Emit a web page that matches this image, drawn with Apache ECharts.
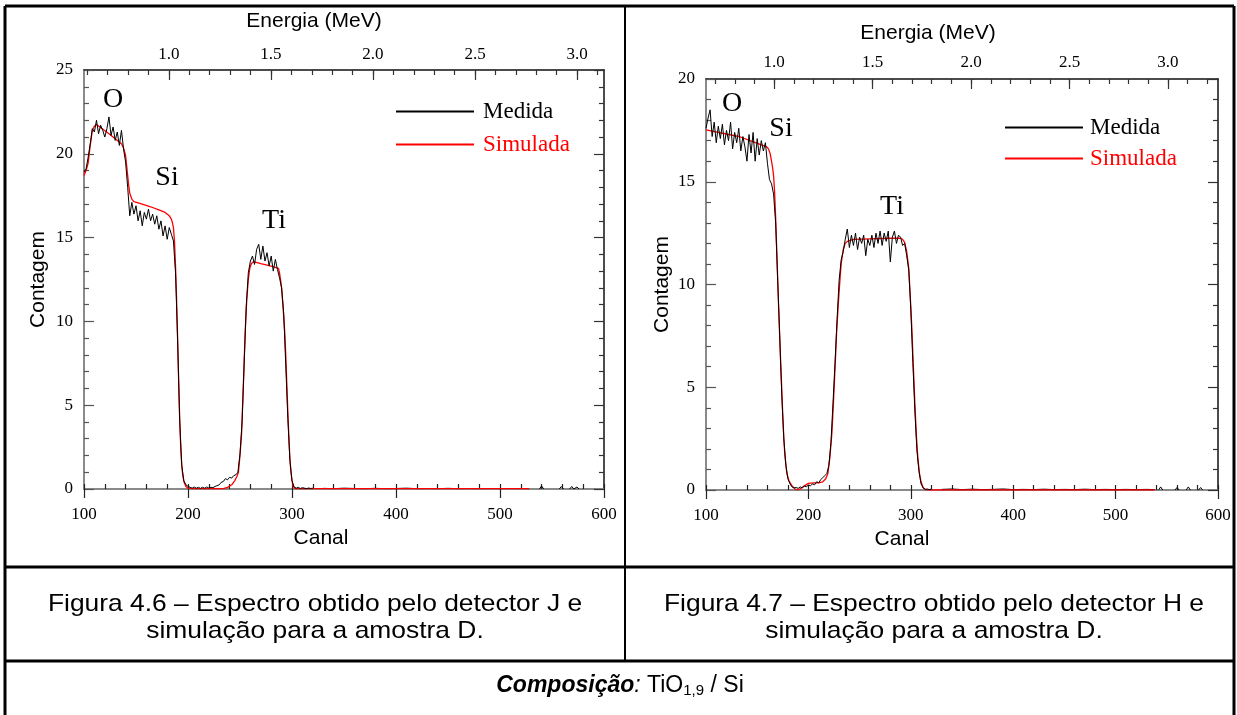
<!DOCTYPE html>
<html><head><meta charset="utf-8">
<script src="https://cdn.jsdelivr.net/npm/echarts@6/dist/echarts.min.js"></script>
<style>html,body{margin:0;padding:0;background:#fff}#c{width:1237px;height:715px}</style>
</head><body><div id="c"></div>
<script>
// ---------- DATA ----------
// Channel tick labels (bottom axes)
const channelMin = 100, channelMax = 600, channelStep = 100;
// Energy tick labels (top axes)
const energyMajor = [1.0, 1.5, 2.0, 2.5, 3.0];
const energyMinorJ = [0.6,0.7,0.8,0.9,1.0,1.1,1.2,1.3,1.4,1.5,1.6,1.7,1.8,1.9,2.0,2.1,2.2,2.3,2.4,2.5,2.6,2.7,2.8,2.9,3.0,3.1];
const energyMinorH = [0.7,0.8,0.9,1.0,1.1,1.2,1.3,1.4,1.5,1.6,1.7,1.8,1.9,2.0,2.1,2.2,2.3,2.4,2.5,2.6,2.7,2.8,2.9,3.0,3.1,3.2];
const energyRangeJ = [0.584, 3.132];
const energyRangeH = [0.654, 3.254];

// Measured spectrum, detector J (Figura 4.6): counts every 2 channels from 100 to 320
const medidaJ_start = 100, medidaJ_step = 2;
const medidaJ = [
 18.9,19.1,19.8,20.6,21.5,21.3,22.0,21.2,21.7,21.4,
 21.0,21.5,22.2,21.1,21.6,20.8,21.3,20.5,21.4,20.3,
 19.5,18.0,16.3,17.1,16.4,16.9,16.0,16.6,15.7,16.5,
 16.1,16.7,16.0,16.4,15.8,16.3,15.5,16.0,15.1,15.7,
 14.9,15.6,15.2,14.8,12.9,8.9,4.1,1.4,0.5,0.25,
 0.15,0.1,0.05,0.12,0.05,0.1,0.04,0.1,0.05,0.12,
 0.06,0.1,0.08,0.15,0.2,0.25,0.4,0.45,0.62,0.55,
 0.7,0.65,0.8,0.85,1.0,2.1,4.0,7.5,10.9,12.9,
 13.6,13.9,13.4,14.3,14.6,13.7,14.5,13.6,14.1,13.3,
 13.9,13.0,13.7,13.1,12.6,12.0,10.5,7.4,4.2,1.7,
 0.5,0.12,0.05,0.1,0.03,0.08,0.05,0.02,0.06,0.03,0.05
];
// Measured tail J (null = gap)
const medidaJ_tailCh  = [330,340,350,360,370,380,390,400,410,420,430,440,450,460,470,480,490,500,510,520,528,530,538,540,542,544,557,559,561,563,567,569,571,572,574,576];
const medidaJ_tailVal = [0.04,0.02,0.05,0.03,0.02,0.04,0.02,0.03,0.05,0.02,0.03,0.02,0.04,0.02,0.03,0.02,0.03,0.02,0.03,0.02,0.02,null,0,0.18,0,null,0,0.15,0,null,0,0.15,0,0,0.12,0];

// Simulated spectrum, detector J
const simJ_ch  = [100,102,104,106,108,110,112,124,136,138,140,141,142,143,144,146,148,156,164,172,178,182,184,185,186,187,188,189,190,191,192,193,194,195,196,198,200,205,234,238,242,245,247,248.5,250,251.5,253,254,255,256.5,258,259.5,261,263,270,280,287,288,289,290,291,292,293,294,295,296,297,298,299,300,301,302,304,528];
const simJ_val = [18.7,19.0,19.45,20.5,21.4,21.65,21.75,21.2,20.6,20.35,19.9,19.3,18.7,18.1,17.65,17.3,17.15,17.0,16.84,16.65,16.5,16.3,16.1,15.9,15.6,14.8,13.3,11.4,9.0,6.5,4.2,2.5,1.4,0.8,0.45,0.15,0.05,0.02,0.02,0.1,0.25,0.5,0.75,1.0,2.0,3.3,5.8,7.6,9.4,11.3,12.5,13.2,13.45,13.56,13.45,13.3,13.17,12.9,12.5,12.0,11.2,10.3,9.4,8.0,6.3,4.6,3.1,1.8,1.0,0.5,0.2,0.07,0.02,0.02];

// Measured spectrum, detector H (Figura 4.7): counts every 2 channels from 100 to 320
const medidaH_start = 100, medidaH_step = 2;
const medidaH = [
 17.6,18.1,18.5,17.2,17.9,16.9,17.7,17.1,17.8,16.8,
 17.5,17.0,17.9,16.6,17.4,16.9,17.6,16.5,17.2,16.7,
 16.0,17.3,16.4,17.4,16.0,17.1,16.3,17.0,16.5,16.9,
 15.9,15.1,14.9,14.4,13.0,10.2,7.5,4.6,2.5,1.2,
 0.55,0.3,0.15,0.1,0.12,0.08,0.15,0.1,0.2,0.15,
 0.25,0.2,0.3,0.25,0.4,0.35,0.5,0.6,0.7,0.8,
 1.2,2.3,4.2,6.2,8.3,10.2,11.2,11.6,12.2,12.7,
 11.8,12.4,11.9,12.5,11.7,12.3,12.0,12.4,11.4,12.2,
 11.9,12.4,11.8,12.5,12.0,12.6,11.9,12.5,12.1,12.6,
 11.1,12.3,12.6,12.0,12.4,12.3,11.9,12.0,11.4,10.7,
 8.8,6.2,3.8,1.9,0.9,0.3,0.1,0.03,0.05,0.02,0.04
];
const medidaH_tailCh  = [330,340,350,360,370,380,390,400,410,420,430,440,450,460,470,480,490,500,510,520,530,538,540,542,544,546,548,558,560,562,564,569,571,573,575,581,583,585];
const medidaH_tailVal = [0.03,0.05,0.02,0.04,0.02,0.03,0.05,0.02,0.03,0.02,0.04,0.02,0.03,0.02,0.04,0.02,0.03,0.02,0.03,0.02,0.03,0.02,null,0,0.15,0,null,0,0.12,0,null,0,0.15,0,null,0,0.12,0];

// Simulated spectrum, detector H
const simH_ch  = [100,133,152.8,159.4,161,162.6,164,165,166,167,168,169,170,171,172,173,174,175,176,177,179,181,184,187,189,192,196,200,205,210,214,217,219,221,223,224.5,226,227.5,229,230.5,232,234,236,238,244,260,280,290,292,294,296,297,298,299.5,301,302.5,304,305.5,307,308.5,310,312,314,316,538];
const simH_val = [17.52,17.19,16.82,16.7,16.6,16.38,16.0,15.7,15.3,14.5,13.3,11.8,10.3,8.8,7.4,6.1,4.9,3.6,2.5,1.7,0.8,0.45,0.2,0.05,0.0,0.05,0.2,0.32,0.35,0.35,0.4,0.55,0.8,1.6,2.8,4.3,5.9,7.6,8.9,10.0,11.0,11.7,12.0,12.1,12.2,12.22,12.25,12.25,12.2,12.05,11.6,11.2,10.8,9.4,7.9,6.0,4.2,2.6,1.5,0.8,0.4,0.12,0.03,0.0,0.0];

// Annotation / caption texts
const peakLabels = ['O','Si','Ti'];
const legendNames = ['Medida','Simulada'];
const captionJ = ['Figura 4.6 – Espectro obtido pelo detector J e','simulação para a amostra D.'];
const captionH = ['Figura 4.7 – Espectro obtido pelo detector H e','simulação para a amostra D.'];

// ---------- BUILD ----------
function regular(start, step, vals){ return vals.map((v,i)=>[start+i*step, v]); }
function pairs(xs, ys){ return xs.map((x,i)=>[x, ys[i]===null ? '-' : ys[i]]); }

const serif = 'Liberation Serif';
const sans = 'Liberation Sans';
const RED = '#ff0000';
const GRAY = '#8a8a8a';

const grids = [
  {left:84, top:70, width:520, height:419},
  {left:706, top:79, width:512, height:411}
];

function chanAxes(g){
  return [
    {type:'value', gridIndex:g, position:'bottom', min:channelMin, max:channelMax, interval:channelStep,
     axisLine:{show:true, onZero:false, lineStyle:{color:GRAY, width:2}},
     axisTick:{show:true, inside:false, length:9, lineStyle:{color:'#222', width:1.2}},
     axisLabel:{show:true, margin:17, color:'#000', fontFamily:serif, fontSize:17},
     splitLine:{show:false},
     name:'Canal', nameLocation:'middle', nameGap:36,
     nameTextStyle:{fontFamily:sans, fontSize:21, color:'#000', padding:[0, g===0?46:120, 0, 0]}},
    {type:'value', gridIndex:g, position:'bottom', min:channelMin, max:channelMax, interval:20,
     axisLine:{show:false, onZero:false}, axisLabel:{show:false},
     axisTick:{show:true, inside:true, length:5, lineStyle:{color:'#222', width:1.2}},
     splitLine:{show:false}}
  ];
}
function energyAxes(g, range, minor){
  return [
    {type:'value', gridIndex:g, position:'top', min:range[0], max:range[1],
     axisLine:{show:true, onZero:false, lineStyle:{color:'#111', width:1.5}},
     axisTick:{show:true, inside:true, length:10, customValues:energyMajor, lineStyle:{color:'#333', width:1.2}},
     axisLabel:{show:true, margin: g===0?7:8, customValues:energyMajor, color:'#000', fontFamily:serif, fontSize:17,
       formatter:v=>Number(v).toFixed(1)},
     splitLine:{show:false},
     name:'Energia (MeV)', nameLocation:'middle', nameGap: g===0?38:35,
     nameTextStyle:{fontFamily:sans, fontSize:21, color:'#000', padding:[0, g===0?60:68, 0, 0]}},
    {type:'value', gridIndex:g, position:'top', min:range[0], max:range[1],
     axisLine:{show:false, onZero:false}, axisLabel:{show:false},
     axisTick:{show:true, inside:true, length:5, customValues:minor, lineStyle:{color:'#333', width:1.2}},
     splitLine:{show:false}}
  ];
}
function countAxes(g, max){
  return [
    {type:'value', gridIndex:g, position:'left', min:0, max:max, interval:5,
     axisLine:{show:true, onZero:false, lineStyle:{color:GRAY, width:2}},
     axisTick:{show:true, inside:true, length:10, lineStyle:{color:'#555', width:1.2}},
     minorTick:{show:true, splitNumber:5, length:5, lineStyle:{color:'#555', width:1.2}},
     axisLabel:{show:true, margin:11, color:'#000', fontFamily:serif, fontSize:17},
     splitLine:{show:false},
     name:'Contagem', nameLocation:'middle', nameGap: g===0?35:33, nameRotate:90,
     nameTextStyle:{fontFamily:sans, fontSize:21, color:'#000'}},
    {type:'value', gridIndex:g, position:'right', min:0, max:max, interval:5,
     axisLine:{show:true, onZero:false, lineStyle:{color:'#111', width:1.5}},
     axisTick:{show:true, inside:true, length:10, lineStyle:{color:'#333', width:1.2}},
     minorTick:{show:true, splitNumber:5, length:5, lineStyle:{color:'#333', width:1.2}},
     axisLabel:{show:false}, splitLine:{show:false}}
  ];
}

const xAxis = [...chanAxes(0), ...energyAxes(0, energyRangeJ, energyMinorJ), ...chanAxes(1), ...energyAxes(1, energyRangeH, energyMinorH)];
const yAxis = [...countAxes(0,25), ...countAxes(1,20)];

function lineSeries(name, color, width, xi, yi, data, z){
  return {name, type:'line', xAxisIndex:xi, yAxisIndex:yi, data, showSymbol:false, symbol:'none',
    color, itemStyle:{color}, lineStyle:{color, width}, z, silent:true, connectNulls:false, animation:false};
}

const series = [
  lineSeries(legendNames[1], RED, 1.3, 0, 0, pairs(simJ_ch, simJ_val), 2),
  lineSeries(legendNames[0], '#000', 1, 0, 0, regular(medidaJ_start, medidaJ_step, medidaJ), 3),
  lineSeries(legendNames[0], '#000', 1, 0, 0, pairs(medidaJ_tailCh, medidaJ_tailVal), 1),
  lineSeries(legendNames[1], RED, 1.3, 4, 2, pairs(simH_ch, simH_val), 2),
  lineSeries(legendNames[0], '#000', 1, 4, 2, regular(medidaH_start, medidaH_step, medidaH), 3),
  lineSeries(legendNames[0], '#000', 1, 4, 2, pairs(medidaH_tailCh, medidaH_tailVal), 1)
];

function legendAt(left, top, gap, pad){
  return {show:true, orient:'vertical', left, top, itemWidth:78, itemHeight:2, itemGap:gap, icon:'rect',
    selectedMode:false,
    textStyle:{fontFamily:serif, fontSize:23, lineHeight:22, padding:[0,0,0,pad]},
    data:[{name:legendNames[0], textStyle:{color:'#000'}},{name:legendNames[1], textStyle:{color:RED}}]};
}

function label(text, x, y, size){
  return {type:'text', x, y, z:50, style:{text, fontFamily:serif, fontSize:size, fill:'#000', align:'center', verticalAlign:'middle'}};
}
function caption(text, x, y){
  return {type:'text', x, y, scaleX:1.1, z:50, style:{text, fontFamily:sans, fontSize:24, fill:'#000', align:'center', verticalAlign:'middle'}};
}
function hline(x1,x2,y,w){ return {type:'line', z:60, shape:{x1,y1:y,x2,y2:y}, style:{stroke:'#000', lineWidth:w}}; }
function vline(x,y1,y2,w){ return {type:'line', z:60, shape:{x1:x,y1,x2:x,y2}, style:{stroke:'#000', lineWidth:w}}; }

const graphic = [
  vline(5, 6, 720, 3), vline(1234, 6, 720, 3), hline(5, 1234, 6, 3),
  vline(625, 6, 662, 2), hline(5, 1234, 567, 3), hline(5, 1234, 661, 3),
  label(peakLabels[0], 113, 100, 28), label(peakLabels[1], 167, 178, 28), label(peakLabels[2], 274, 221, 28),
  label(peakLabels[0], 732, 104, 28), label(peakLabels[1], 781, 129, 28), label(peakLabels[2], 892, 207, 28),
  caption(captionJ[0], 315, 604), caption(captionJ[1], 315, 631),
  caption(captionH[0], 934, 604), caption(captionH[1], 934, 631),
  {type:'text', x:620, y:686, z:50, style:{
     text:'{b|Composição}{i|:} TiO{s|1,9} / Si', fontFamily:sans, fontSize:23, fill:'#000',
     align:'center', verticalAlign:'middle',
     rich:{ b:{fontFamily:sans, fontSize:23, fontWeight:'bold', fontStyle:'italic'},
            i:{fontFamily:sans, fontSize:23, fontStyle:'italic'},
            s:{fontFamily:sans, fontSize:15, padding:[10,0,0,0]} }}}
];

const chart = echarts.init(document.getElementById('c'), null, {renderer:'canvas'});
chart.setOption({
  animation:false,
  backgroundColor:'#fff',
  grid:grids,
  xAxis, yAxis, series,
  legend:[legendAt(391, 95, 10, 4), legendAt(1000, 111, 8, 2)],
  graphic
});
</script>
</body></html>
